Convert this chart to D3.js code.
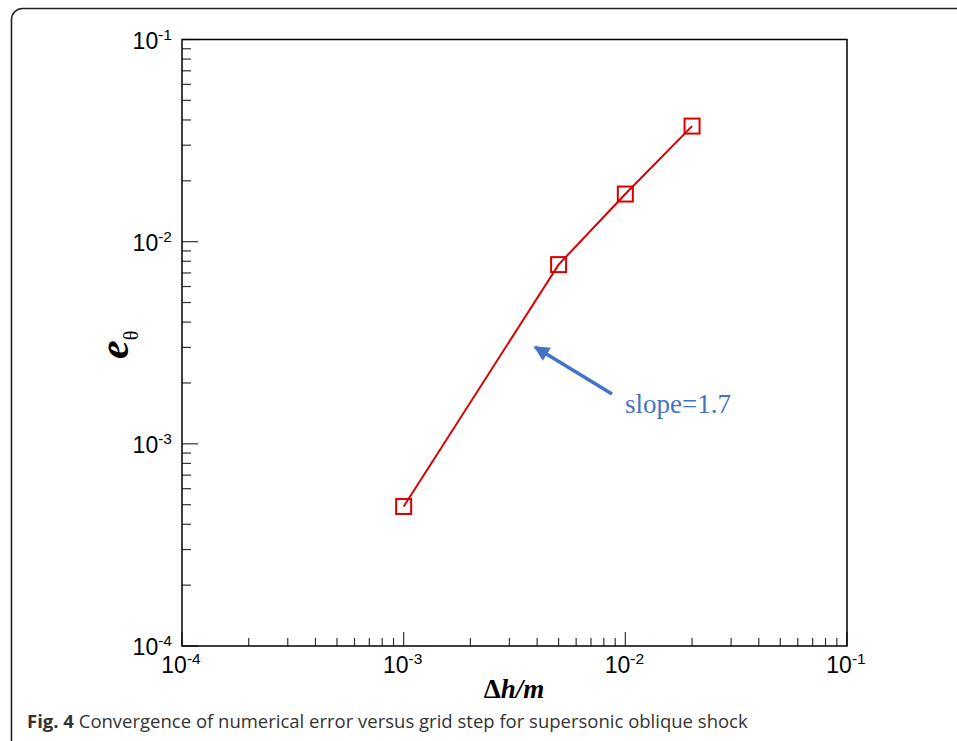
<!DOCTYPE html>
<html>
<head>
<meta charset="utf-8">
<script src="https://cdn.jsdelivr.net/npm/d3@7"></script>
<style>
  body { margin: 0; background: #fff; }
  svg { display: block; }
</style>
</head>
<body>
<div id="chart"></div>
<script>
// grid step vs error
const gridStep = [0.001, 0.005, 0.01, 0.02];
const errTheta = [0.00049, 0.0077, 0.0172, 0.0373];
const decadeExps = [-4, -3, -2, -1];

const width = 957, height = 741;
const plot = { left: 182, right: 847, top: 39.5, bottom: 646 };
const red = '#d90000', blue = '#4472c4';

const svg = d3.select('#chart').append('svg')
  .attr('width', width)
  .attr('height', height);

// outer panel frame (runs off right & bottom)
svg.append('rect')
  .attr('x', 11.5).attr('y', 8.5)
  .attr('width', 1000).attr('height', 800)
  .attr('rx', 11).attr('ry', 11)
  .attr('fill', 'none')
  .attr('stroke', '#222')
  .attr('stroke-width', 1.6);

const x = d3.scaleLog().domain([1e-4, 1e-1]).range([plot.left, plot.right]);
const y = d3.scaleLog().domain([1e-4, 1e-1]).range([plot.bottom, plot.top]);

// minor + major tick values
const minorVals = [];
decadeExps.slice(0, 3).forEach(e => {
  for (let k = 2; k <= 9; k++) minorVals.push(k * Math.pow(10, e));
});
const majorVals = decadeExps.map(e => Math.pow(10, e));

const axes = svg.append('g');

// ticks on the bottom axis (pointing in)
axes.selectAll('.xminor').data(minorVals).enter().append('line')
  .attr('x1', d => x(d)).attr('x2', d => x(d))
  .attr('y1', plot.bottom).attr('y2', plot.bottom - 8)
  .attr('stroke', '#333').attr('stroke-width', 1.2);
axes.selectAll('.xmajor').data(majorVals).enter().append('line')
  .attr('x1', d => x(d)).attr('x2', d => x(d))
  .attr('y1', plot.bottom).attr('y2', plot.bottom - 14)
  .attr('stroke', '#333').attr('stroke-width', 1.2);

// ticks on the left axis
axes.selectAll('.yminor').data(minorVals).enter().append('line')
  .attr('y1', d => y(d)).attr('y2', d => y(d))
  .attr('x1', plot.left).attr('x2', plot.left + 9)
  .attr('stroke', '#333').attr('stroke-width', 1.2);
axes.selectAll('.ymajor').data(majorVals).enter().append('line')
  .attr('y1', d => y(d)).attr('y2', d => y(d))
  .attr('x1', plot.left).attr('x2', plot.left + 16)
  .attr('stroke', '#333').attr('stroke-width', 1.2);

// plot frame
axes.append('rect')
  .attr('x', plot.left).attr('y', plot.top)
  .attr('width', plot.right - plot.left)
  .attr('height', plot.bottom - plot.top)
  .attr('fill', 'none')
  .attr('stroke', '#000')
  .attr('stroke-width', 1.5);

// tick labels 10^n
const xLab = axes.selectAll('.xlab').data(decadeExps).enter().append('text')
  .attr('x', d => x(Math.pow(10, d)) - 1)
  .attr('y', plot.bottom + 27)
  .attr('text-anchor', 'middle')
  .style('font-family', '"Liberation Sans", Arial, sans-serif')
  .style('font-size', '23px');
xLab.append('tspan').text('10');
xLab.append('tspan').attr('dy', -9).style('font-size', '15.5px').text(d => '-' + Math.abs(d));

const yLab = axes.selectAll('.ylab').data(decadeExps).enter().append('text')
  .attr('x', plot.left - 10)
  .attr('y', d => y(Math.pow(10, d)) + 9)
  .attr('text-anchor', 'end')
  .style('font-family', '"Liberation Sans", Arial, sans-serif')
  .style('font-size', '23px');
yLab.append('tspan').text('10');
yLab.append('tspan').attr('dy', -9).style('font-size', '15.5px').text(d => '-' + Math.abs(d));

// axis titles
const xTitle = svg.append('text')
  .attr('x', 514).attr('y', 698)
  .attr('text-anchor', 'middle')
  .style('font-family', '"Liberation Serif", "Times New Roman", serif')
  .style('font-size', '27px')
  .style('font-weight', 'bold');
xTitle.append('tspan').text('\u0394');
xTitle.append('tspan').style('font-style', 'italic').text('h/m');

const yTitle = svg.append('text')
  .attr('transform', 'translate(128,359) rotate(-90)')
  .style('font-family', '"Liberation Serif", "Times New Roman", serif');
yTitle.append('tspan')
  .style('font-size', '42px').style('font-weight', 'bold').style('font-style', 'italic')
  .text('e');
yTitle.append('tspan')
  .attr('dy', 10)
  .style('font-size', '20px')
  .text('\u03b8');

// data line + square markers
const pts = gridStep.map((g, i) => [g, errTheta[i]]);
const line = d3.line().x(d => x(d[0])).y(d => y(d[1]));

svg.append('path')
  .datum(pts)
  .attr('d', line)
  .attr('fill', 'none')
  .attr('stroke', red)
  .attr('stroke-width', 2);

const sq = 15;
svg.selectAll('.marker').data(pts).enter().append('rect')
  .attr('x', d => x(d[0]) - sq / 2)
  .attr('y', d => y(d[1]) - sq / 2)
  .attr('width', sq).attr('height', sq)
  .attr('fill', 'none')
  .attr('stroke', red)
  .attr('stroke-width', 2);

// slope annotation
svg.append('defs').append('marker')
  .attr('id', 'ahead')
  .attr('viewBox', '0 0 10 10')
  .attr('refX', 9).attr('refY', 5)
  .attr('markerWidth', 5).attr('markerHeight', 4.4)
  .attr('orient', 'auto')
  .attr('markerUnits', 'strokeWidth')
  .append('path')
  .attr('d', 'M0,0 L10,5 L0,10 Z')
  .attr('fill', blue);

svg.append('line')
  .attr('x1', 612).attr('y1', 394)
  .attr('x2', 535).attr('y2', 347)
  .attr('stroke', blue)
  .attr('stroke-width', 3.5)
  .attr('marker-end', 'url(#ahead)');

svg.append('text')
  .attr('x', 625).attr('y', 413)
  .style('font-family', '"Liberation Serif", "Times New Roman", serif')
  .style('font-size', '27px')
  .attr('fill', blue)
  .text('slope=1.7');

// caption
const cap = svg.append('text')
  .attr('x', 27).attr('y', 728)
  .style('font-family', '"Open Sans", "Noto Sans", sans-serif')
  .style('font-size', '18.5px')
  .attr('fill', '#333');
cap.append('tspan').style('font-weight', 'bold').text('Fig. 4');
cap.append('tspan').text(' Convergence of numerical error versus grid step for supersonic oblique shock');
</script>
</body>
</html>
